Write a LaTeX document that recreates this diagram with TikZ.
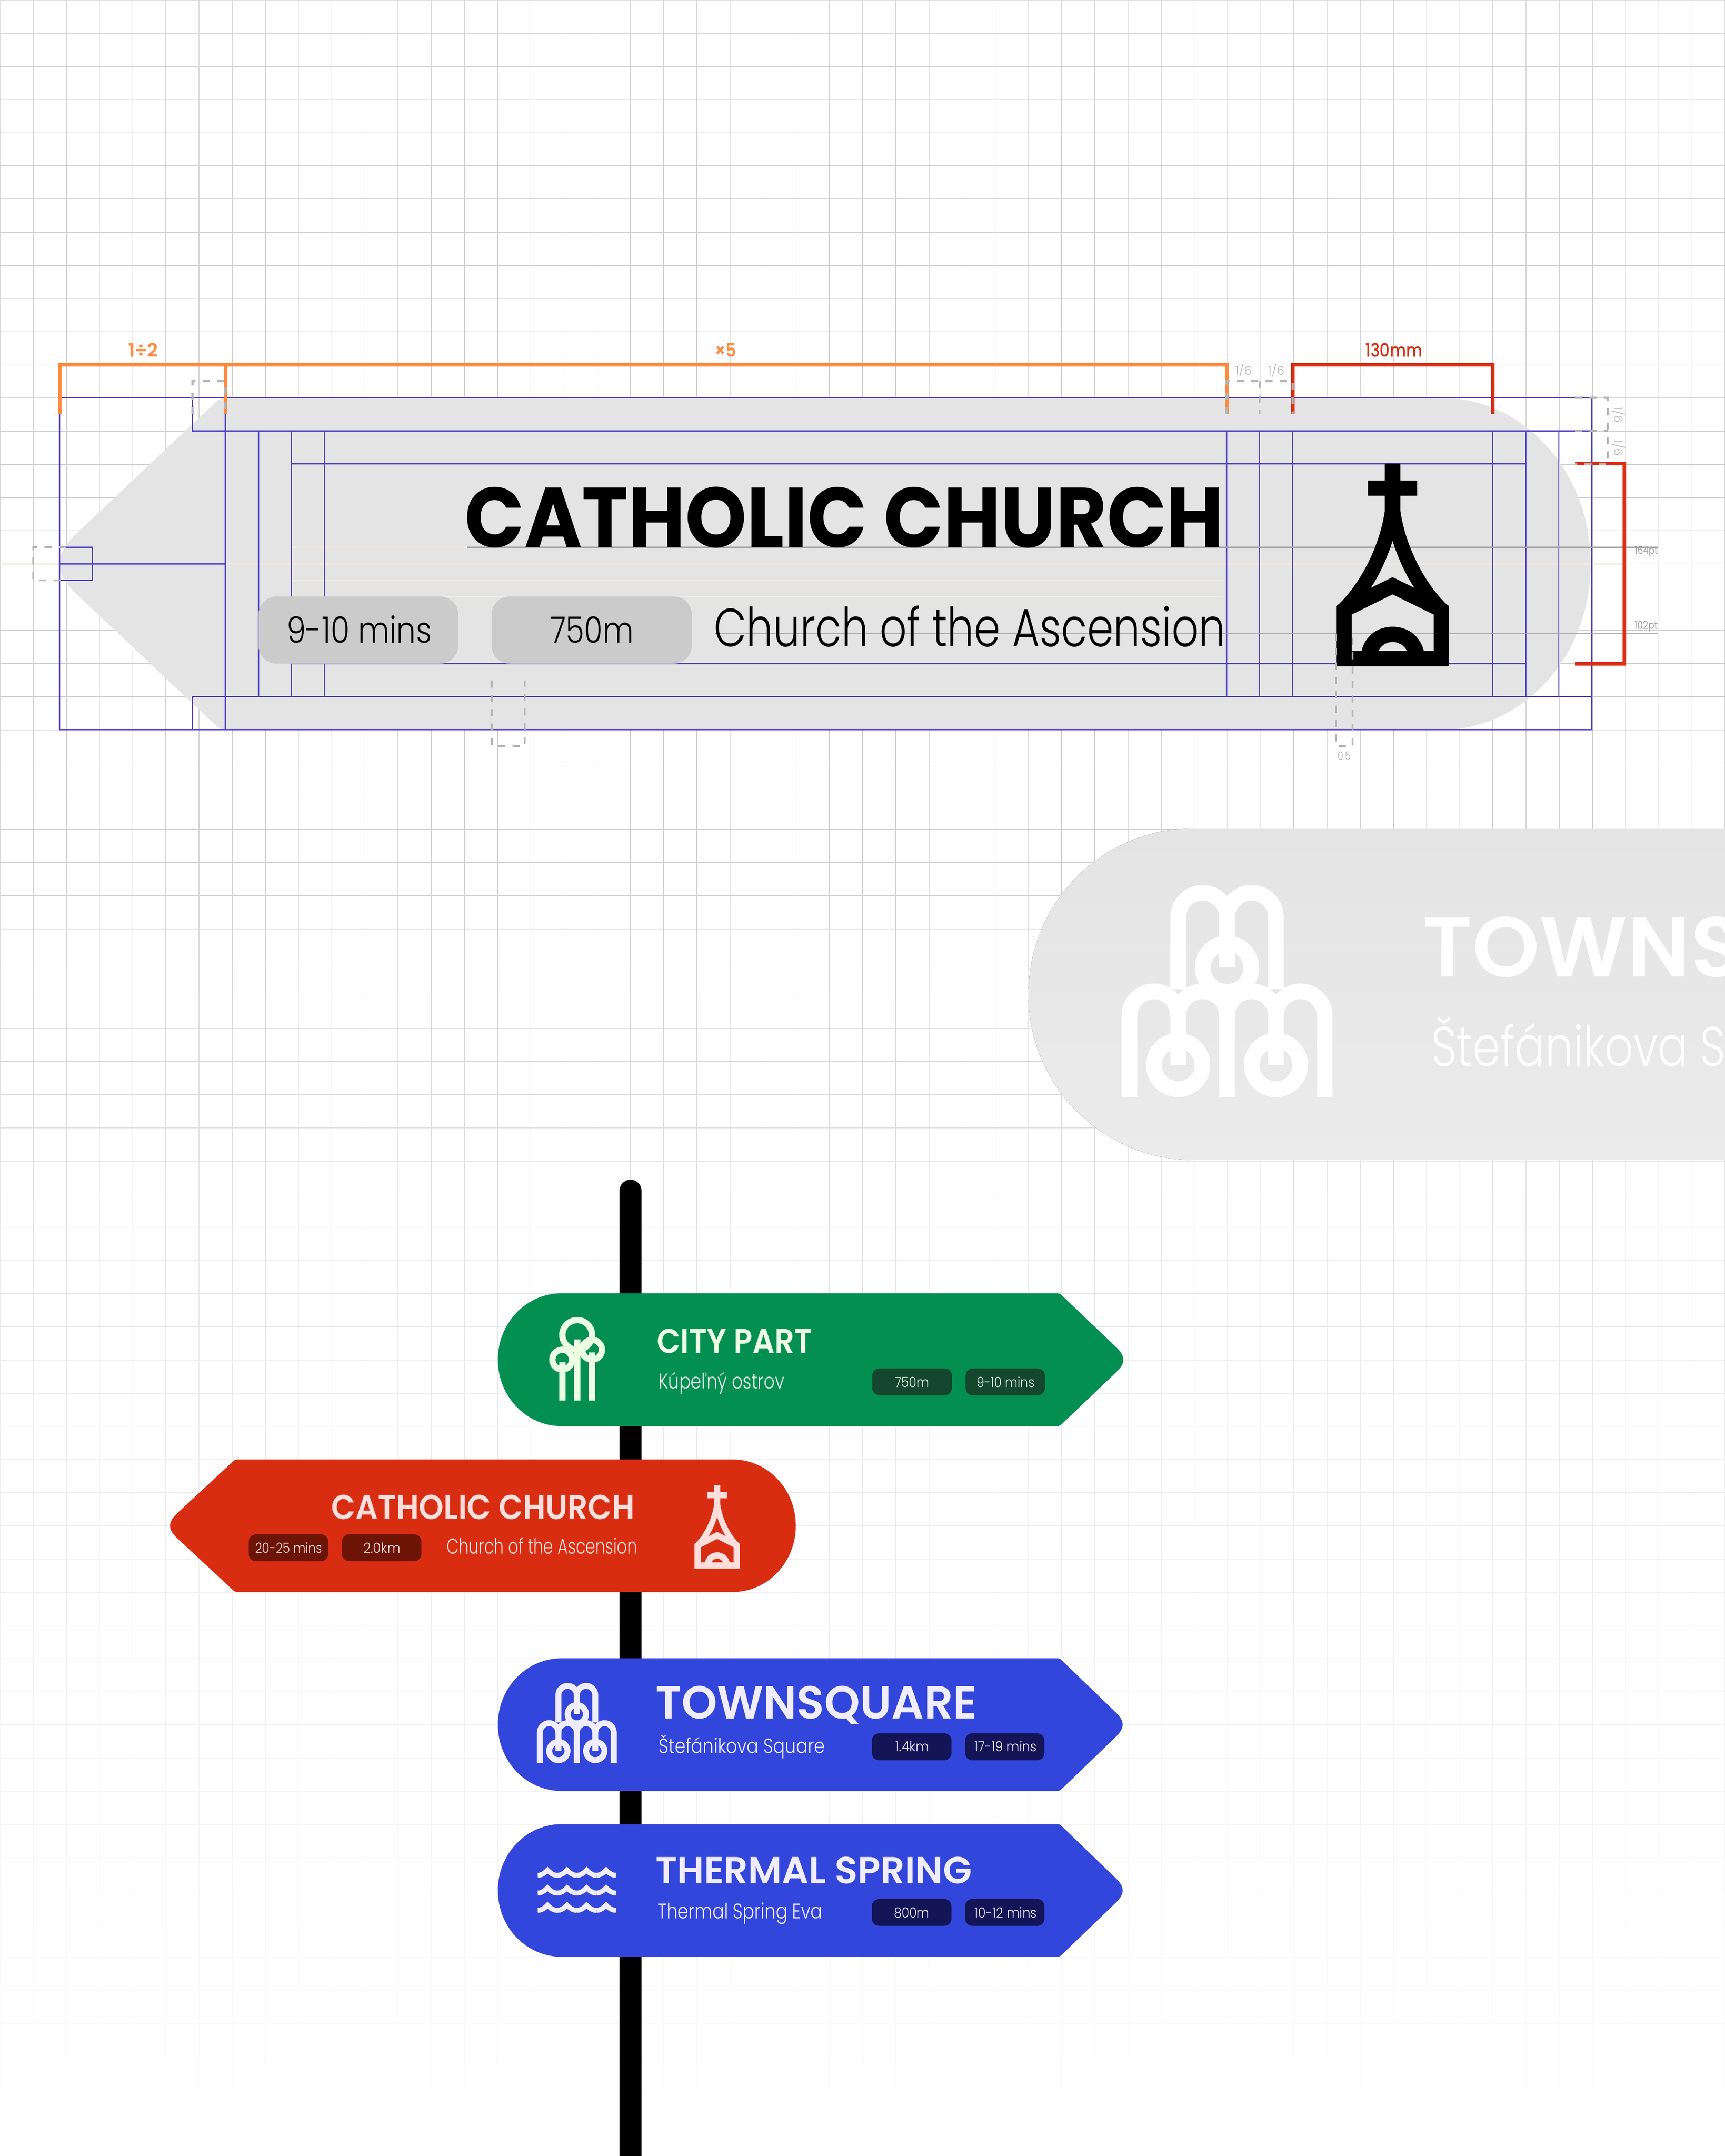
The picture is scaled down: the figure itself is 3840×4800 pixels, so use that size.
\documentclass[tikz,border=0pt]{standalone}
\usepackage{fontspec}
\usepackage{graphicx}
\setmainfont{Poppins}
\newfontfamily\fm{Poppins Medium}
\newfontfamily\fs{Poppins SemiBold}
\newfontfamily\fb{Poppins Bold}
\newfontfamily\fl{Poppins Light}
\newfontfamily\fr{Poppins}
\definecolor{gridc}{HTML}{CFCFCF}
\definecolor{guide}{HTML}{4F40C4}
\definecolor{signgrey}{HTML}{E4E4E5}
\definecolor{ghosta}{HTML}{E4E4E5}
\definecolor{ghostb}{HTML}{EBEBEB}
\definecolor{pillgrey}{HTML}{CBCBCC}
\definecolor{peach}{HTML}{F3EADF}
\definecolor{dashc}{HTML}{B4B4B4}
\definecolor{baseg}{HTML}{A0A0A0}
\definecolor{orangeb}{HTML}{FF8A3D}
\definecolor{redb}{HTML}{D92E14}
\definecolor{greens}{HTML}{038F52}
\definecolor{greend}{HTML}{15472F}
\definecolor{greent}{HTML}{ECFFE3}
\definecolor{reds}{HTML}{D92D12}
\definecolor{redd}{HTML}{6C1507}
\definecolor{redt}{HTML}{FFDEDC}
\definecolor{blues}{HTML}{3346DB}
\definecolor{blued}{HTML}{141557}
\definecolor{bluet}{HTML}{F0EDFF}
% name, x, baseline y, width, size, font, colour, text
\newcommand\txt[8]{\node[anchor=base west,inner sep=0pt,text=#7] (#1) at (#2,#3)
  {\resizebox{#4pt}{\height}{#6\fontsize{#5pt}{#5pt}\selectfont #8}};}
\newcommand\pillbox[6]{\fill[#6,rounded corners=#5pt] (#1,#2) rectangle (#3,#4);}
% colour, top, bottom, cap straight x, cap extreme x, corner x, tip x, corner scale
\newcommand\arrowsign[8]{%
  \pgfmathsetmacro\sc{(#2+#3)/2}%
  \pgfmathsetmacro\sd{(#7>#6)?1:-1}%
  \pgfmathsetmacro\srx{#4-#5}%
  \pgfmathsetmacro\sry{(#3-#2)/2}%
  \fill[#1] ({#6-\sd*7*#8},#2)
    .. controls ({#6-\sd*2*#8},#2) and ({#6+\sd*1*#8},{#2+1*#8}) .. ({#6+\sd*4*#8},{#2+4*#8})
    -- ({#7-\sd*14*#8},{\sc-26*#8})
    .. controls ({#7-\sd*4*#8},{\sc-16*#8}) and (#7,{\sc-8*#8}) .. (#7,\sc)
    .. controls (#7,{\sc+8*#8}) and ({#7-\sd*4*#8},{\sc+16*#8}) .. ({#7-\sd*14*#8},{\sc+26*#8})
    -- ({#6+\sd*4*#8},{#3-4*#8})
    .. controls ({#6+\sd*1*#8},{#3-1*#8}) and ({#6-\sd*2*#8},#3) .. ({#6-\sd*7*#8},#3)
    -- (#4,#3)
    .. controls ({#4-.5523*\srx},#3) and (#5,{\sc+.5523*\sry}) .. (#5,\sc)
    .. controls (#5,{\sc-.5523*\sry}) and ({#4-.5523*\srx},#2) .. (#4,#2)
    -- cycle;}
% centre x, top y, x scale, y scale, colour
\newcommand\churchicon[5]{\begin{scope}[shift={(#1,#2)},x=#3pt,y=-#4pt]
  \fill[#5,even odd rule]
    (-17.4,0) -- (17.4,0) -- (17.4,37.6) -- (54.6,37.6) -- (54.6,71.4) -- (17.4,71.4) -- (17.4,106)
    .. controls (30,190) and (75,270) .. (120,313) -- (125.7,317) -- (125.7,451)
    -- (-125.7,451) -- (-125.7,317) -- (-120,313)
    .. controls (-75,270) and (-30,190) .. (-17.4,106)
    -- (-17.4,71.4) -- (-54.6,71.4) -- (-54.6,37.6) -- (-17.4,37.6) -- cycle
    (-91,336) -- (0,291) -- (91.7,336) -- (91.7,417) -- (69.6,417)
    .. controls (60,380) and (30,363) .. (0,363)
    .. controls (-30,363) and (-60,380) .. (-69,417) -- (-91,417) -- cycle
    (32.4,417) .. controls (26,405) and (14,397) .. (0,397)
    .. controls (-14,397) and (-26,405) .. (-31.6,417) -- cycle
    (0,171.5) .. controls (10,205) and (30,250) .. (49,276.8) -- (0,252.6) -- (-49,276.8)
    .. controls (-30,250) and (-10,205) .. (0,171.5) -- cycle;
\end{scope}}
% centre x, bottom y, scale, colour
\newcommand\fountainicon[4]{\begin{scope}[shift={(#1,#2)},x=#3pt,y=#3pt]
  \pgfmathsetmacro\flw{35*#3}
  \begin{scope}[draw=#4,line width=\flw pt]
  \draw (-217.4,0) -- (-217.4,181) arc[start angle=180,end angle=0,radius=54.35] -- (-108.7,71.4);
  \draw (-108.7,181) arc[start angle=180,end angle=0,radius=54.35] -- (0,0);
  \draw (0,181) arc[start angle=180,end angle=0,radius=54.35] -- (108.7,71.4);
  \draw (108.7,181) arc[start angle=180,end angle=0,radius=54.35] -- (217.4,0);
  \draw (-108.7,240) -- (-108.7,400.5) arc[start angle=180,end angle=0,radius=54.35] -- (0,288.8);
  \draw (0,400.5) arc[start angle=180,end angle=0,radius=54.35] -- (108.7,240);
  \draw (0,288) circle[radius=54];
  \draw (-108.7,71.4) circle[radius=54];
  \draw (108.7,71.4) circle[radius=54];
  \end{scope}
\end{scope}}
\newcommand\waverow[2]{\foreach \d in {0,43.5,87,130.5}{
  \draw[#2,line width=11pt,miter limit=10] ({1197+\d},{#1+17.5})
    .. controls ({1197+\d+8},{#1+17.5}) and ({1197+\d+15},{#1+13}) .. ({1197+\d+21.75},{#1+6})
    .. controls ({1197+\d+28.5},{#1+13}) and ({1197+\d+35.5},{#1+17.5}) .. ({1197+\d+43.5},{#1+17.5});}}
\tikzset{
  guideline/.style={draw=guide,line width=2.5pt},
  peachline/.style={draw=peach,line width=3pt},
  baseline rule/.style={draw=baseg,line width=2.5pt},
  dashline/.style={draw=dashc,line width=4.5pt,dash pattern=on 16pt off 16pt},
  bracketo/.style={draw=orangeb,line width=8pt},
  bracketr/.style={draw=redb,line width=8pt}
}
\begin{document}
\begin{tikzpicture}[x=1pt,y=-1pt]
\useasboundingbox (0,0) rectangle (3840,4800);
\fill[white] (0,0) rectangle (3840,4800);
% ---------- fading grid
\foreach \r in {0,...,65}{
  \pgfmathsetmacro\gy{73.85*\r}
  \pgfmathsetmacro\gm{\gy<400?75+\gy/400*20:(\gy<1800?95:(\gy<2900?95-(\gy-1800)/1100*48:(\gy<4300?47-(\gy-2900)/1400*32:max(0,15-(\gy-4300)/450*15))))}
  \draw[gridc!\gm!white,line width=1.6pt] (0,\gy) -- (3840,\gy);
  \foreach \c in {0,...,52}{
    \pgfmathsetmacro\gx{73.85*\c}
    \draw[gridc!\gm!white,line width=1.6pt] (\gx,\gy) -- (\gx,{\gy+73.85});
  }
}
% ---------- big specimen sign
\arrowsign{signgrey}{885.6}{1624.7}{3209}{3541}{490}{132.7}{2.5}
\draw[peachline] (0,1255.5) -- (3612,1255.5);
\draw[peachline] (648,1218.5) -- (1040,1218.5);
\draw[peachline] (648,1292) -- (2722,1292);
\draw[peachline] (648,1328.5) -- (2722,1328.5);
\draw[guideline] (132.7,885.6) rectangle (3543.4,1624.7);
\draw[guideline] (428.7,885.6) -- (428.7,959.6) -- (3543.4,959.6);
\draw[guideline] (428.7,1624.7) -- (428.7,1550.8) -- (3543.4,1550.8);
\draw[guideline] (501.7,885.6) -- (501.7,1624.7);
\draw[guideline] (132.7,1255.5) -- (501.7,1255.5);
\draw[guideline] (132.7,1218.5) rectangle (205.6,1292);
\foreach \gx in {575.5,648.4,722,2730.5,2804,2877.6,3322.8,3396.4,3470}{
  \draw[guideline] (\gx,959.6) -- (\gx,1550.8);
}
\draw[guideline] (648.4,1032.3) -- (3396.4,1032.3);
\draw[guideline] (648.4,1477.4) -- (3396.4,1477.4);
\pillbox{575.5}{1328}{1020}{1477.5}{40}{pillgrey}
\pillbox{1094.5}{1328}{1540}{1477.5}{40}{pillgrey}
\draw[baseline rule] (1040,1218.5) -- (3690,1218.5);
\draw[baseline rule] (1592,1411) -- (3690,1411);
\txt{bigtitle}{1034}{1218}{1690}{189}{\fb}{black}{CATHOLIC CHURCH}
\txt{bigsub}{1589}{1439}{1139}{120}{\fl}{black}{Church of the Ascension}
\txt{bigtime}{638}{1431.5}{323}{81}{\fl}{black}{9-10 mins}
\txt{bigdist}{1224}{1431}{186}{81}{\fl}{black}{750m}
\churchicon{3100}{1032.3}{1}{1}{black}
% brackets
\draw[bracketo] (132.7,922) -- (132.7,812) -- (2730.5,812) -- (2730.5,922);
\draw[bracketo] (501.7,812) -- (501.7,922);
\draw[bracketr] (2877.6,922) -- (2877.6,812) -- (3322.8,812) -- (3322.8,922);
\draw[bracketr] (3506,1032.3) -- (3616,1032.3) -- (3616,1477.5) -- (3506,1477.5);
% dashed measures
\draw[dashline] (428.7,922) -- (428.7,848.6) -- (501.7,848.6) -- (501.7,922);
\draw[dashline] (147,1218.5) -- (73.8,1218.5) -- (73.8,1292) -- (147,1292);
\draw[dashline] (1094.5,1515) -- (1094.5,1661) -- (1168,1661) -- (1168,1515);
\draw[dashline] (2974,1411) -- (2974,1661) -- (3011,1661) -- (3011,1411);
\draw[dashline] (2730.5,922) -- (2730.5,848.6) -- (2877.6,848.6) -- (2877.6,922);
\draw[dashline] (2804,848.6) -- (2804,922);
\draw[dashline] (3506,885.6) -- (3579,885.6) -- (3579,1032.3) -- (3506,1032.3);
\draw[dashline] (3506,959.6) -- (3579,959.6);
% measure labels
\txt{lhalf}{285}{794.4}{67}{41}{\fs}{orangeb}{1÷2}
\txt{lfive}{1591}{794.4}{48}{41}{\fs}{orangeb}{×5}
\txt{lmm}{3039}{794.4}{127}{41}{\fm}{redb}{130mm}
\txt{lsixa}{2750}{834}{36}{26}{\fl}{dashc}{1/6}
\txt{lsixb}{2823}{834}{36}{26}{\fl}{dashc}{1/6}
\node[rotate=-90,inner sep=0pt,text=dashc] (lsixc) at (3604,923.5) {\resizebox{36pt}{\height}{\fl\fontsize{26pt}{26pt}\selectfont 1/6}};
\node[rotate=-90,inner sep=0pt,text=dashc] (lsixd) at (3604,997.5) {\resizebox{36pt}{\height}{\fl\fontsize{26pt}{26pt}\selectfont 1/6}};
\txt{lzero}{2977.5}{1692}{29}{26}{\fl}{dashc}{0.5}
\txt{lpta}{3639}{1233.8}{51}{24}{\fr}{baseg}{164pt}
\txt{lptb}{3638}{1400}{52}{24}{\fr}{baseg}{102pt}
% ---------- ghost sign
\begin{scope}
\clip (2200,1800) rectangle (3840,2600);
\arrowsign{top color=ghosta,bottom color=ghostb}{1844}{2582.8}{2658}{2289.5}{3990}{4200}{2.5}
\fountainicon{2731.5}{2442.4}{1}{white}
\txt{ghosttitle}{3167}{2174.6}{712}{189}{\fs}{white}{TOWNS}
\txt{ghostsub}{3186}{2373.6}{655}{124}{\fl}{white}{Štefánikova S}
\end{scope}
% ---------- pole
\draw[black,line width=49pt,line cap=round] (1403.7,2651) -- (1403.7,4900);
% ---------- green sign
\arrowsign{greens}{2879.3}{3175}{1250}{1108.3}{2359}{2500.5}{1}
\begin{scope}[draw=greent,line width=14pt]
  \draw (1284.8,2972) circle[radius=33];
  \draw (1251.5,3027) circle[radius=22];
  \draw (1318,3005) circle[radius=22];
  \draw (1284.8,2982) -- (1284.8,3117.7);
  \draw (1251.5,3033) -- (1251.5,3117.7);
  \draw (1318,3011) -- (1318,3117.7);
\end{scope}
\txt{gtitle}{1462}{3012.7}{346}{76}{\fs}{greent}{CITY PART}
\txt{gsub}{1466}{3091.7}{280}{47}{\fl}{greent}{Kúpeľný ostrov}
\pillbox{1941.7}{3046.7}{2119}{3106.3}{16}{greend}
\pillbox{2149.4}{3046.7}{2326}{3106.3}{16}{greend}
\txt{gdist}{1992}{3088}{76.5}{31}{\fl}{greent}{750m}
\txt{gtime}{2174}{3088}{129}{31}{\fl}{greent}{9-10 mins}
% ---------- red sign
\arrowsign{reds}{3249.3}{3544.3}{1631}{1771.5}{523}{378.6}{1}
\churchicon{1596.5}{3306}{.40}{.413}{redt}
\txt{rtitle}{737}{3382.3}{676}{77}{\fs}{redt}{CATHOLIC CHURCH}
\txt{rsub}{994}{3459}{424}{48}{\fl}{redt}{Church of the Ascension}
\pillbox{553.7}{3416}{730.6}{3475.7}{16}{redd}
\pillbox{761.3}{3416}{938}{3475.7}{16}{redd}
\txt{rtime}{568.5}{3457}{148}{31}{\fl}{redt}{20-25 mins}
\txt{rdist}{809}{3457}{82.5}{31}{\fl}{redt}{2.0km}
% ---------- townsquare sign
\arrowsign{blues}{3692}{3987.3}{1250}{1108.3}{2359}{2499}{1}
\fountainicon{1284}{3925.3}{.378}{bluet}
\txt{ttitle}{1459}{3826}{716}{103}{\fs}{bluet}{TOWNSQUARE}
\txt{tsub}{1466}{3903}{370}{46}{\fl}{bluet}{Štefánikova Square}
\pillbox{1940.8}{3859}{2118}{3919}{16}{blued}
\pillbox{2148.4}{3859}{2325}{3919}{16}{blued}
\txt{tdist}{1993}{3899.6}{75.5}{31}{\fl}{bluet}{1.4km}
\txt{ttime}{2169}{3899.6}{139}{31}{\fl}{bluet}{17-19 mins}
% ---------- thermal sign
\arrowsign{blues}{4061.2}{4356.4}{1250}{1108.3}{2359}{2499}{1}
\waverow{4157.6}{bluet}
\waverow{4197}{bluet}
\waverow{4235.6}{bluet}
\txt{htitle}{1459}{4193.4}{704}{84}{\fs}{bluet}{THERMAL SPRING}
\txt{hsub}{1464}{4271.5}{366}{47}{\fl}{bluet}{Thermal Spring Eva}
\pillbox{1940.8}{4227.9}{2118}{4287.5}{16}{blued}
\pillbox{2148.4}{4227.9}{2325}{4287.5}{16}{blued}
\txt{hdist}{1990}{4269}{78.5}{31}{\fl}{bluet}{800m}
\txt{htime}{2169}{4269}{139}{31}{\fl}{bluet}{10-12 mins}
\end{tikzpicture}
\end{document}
